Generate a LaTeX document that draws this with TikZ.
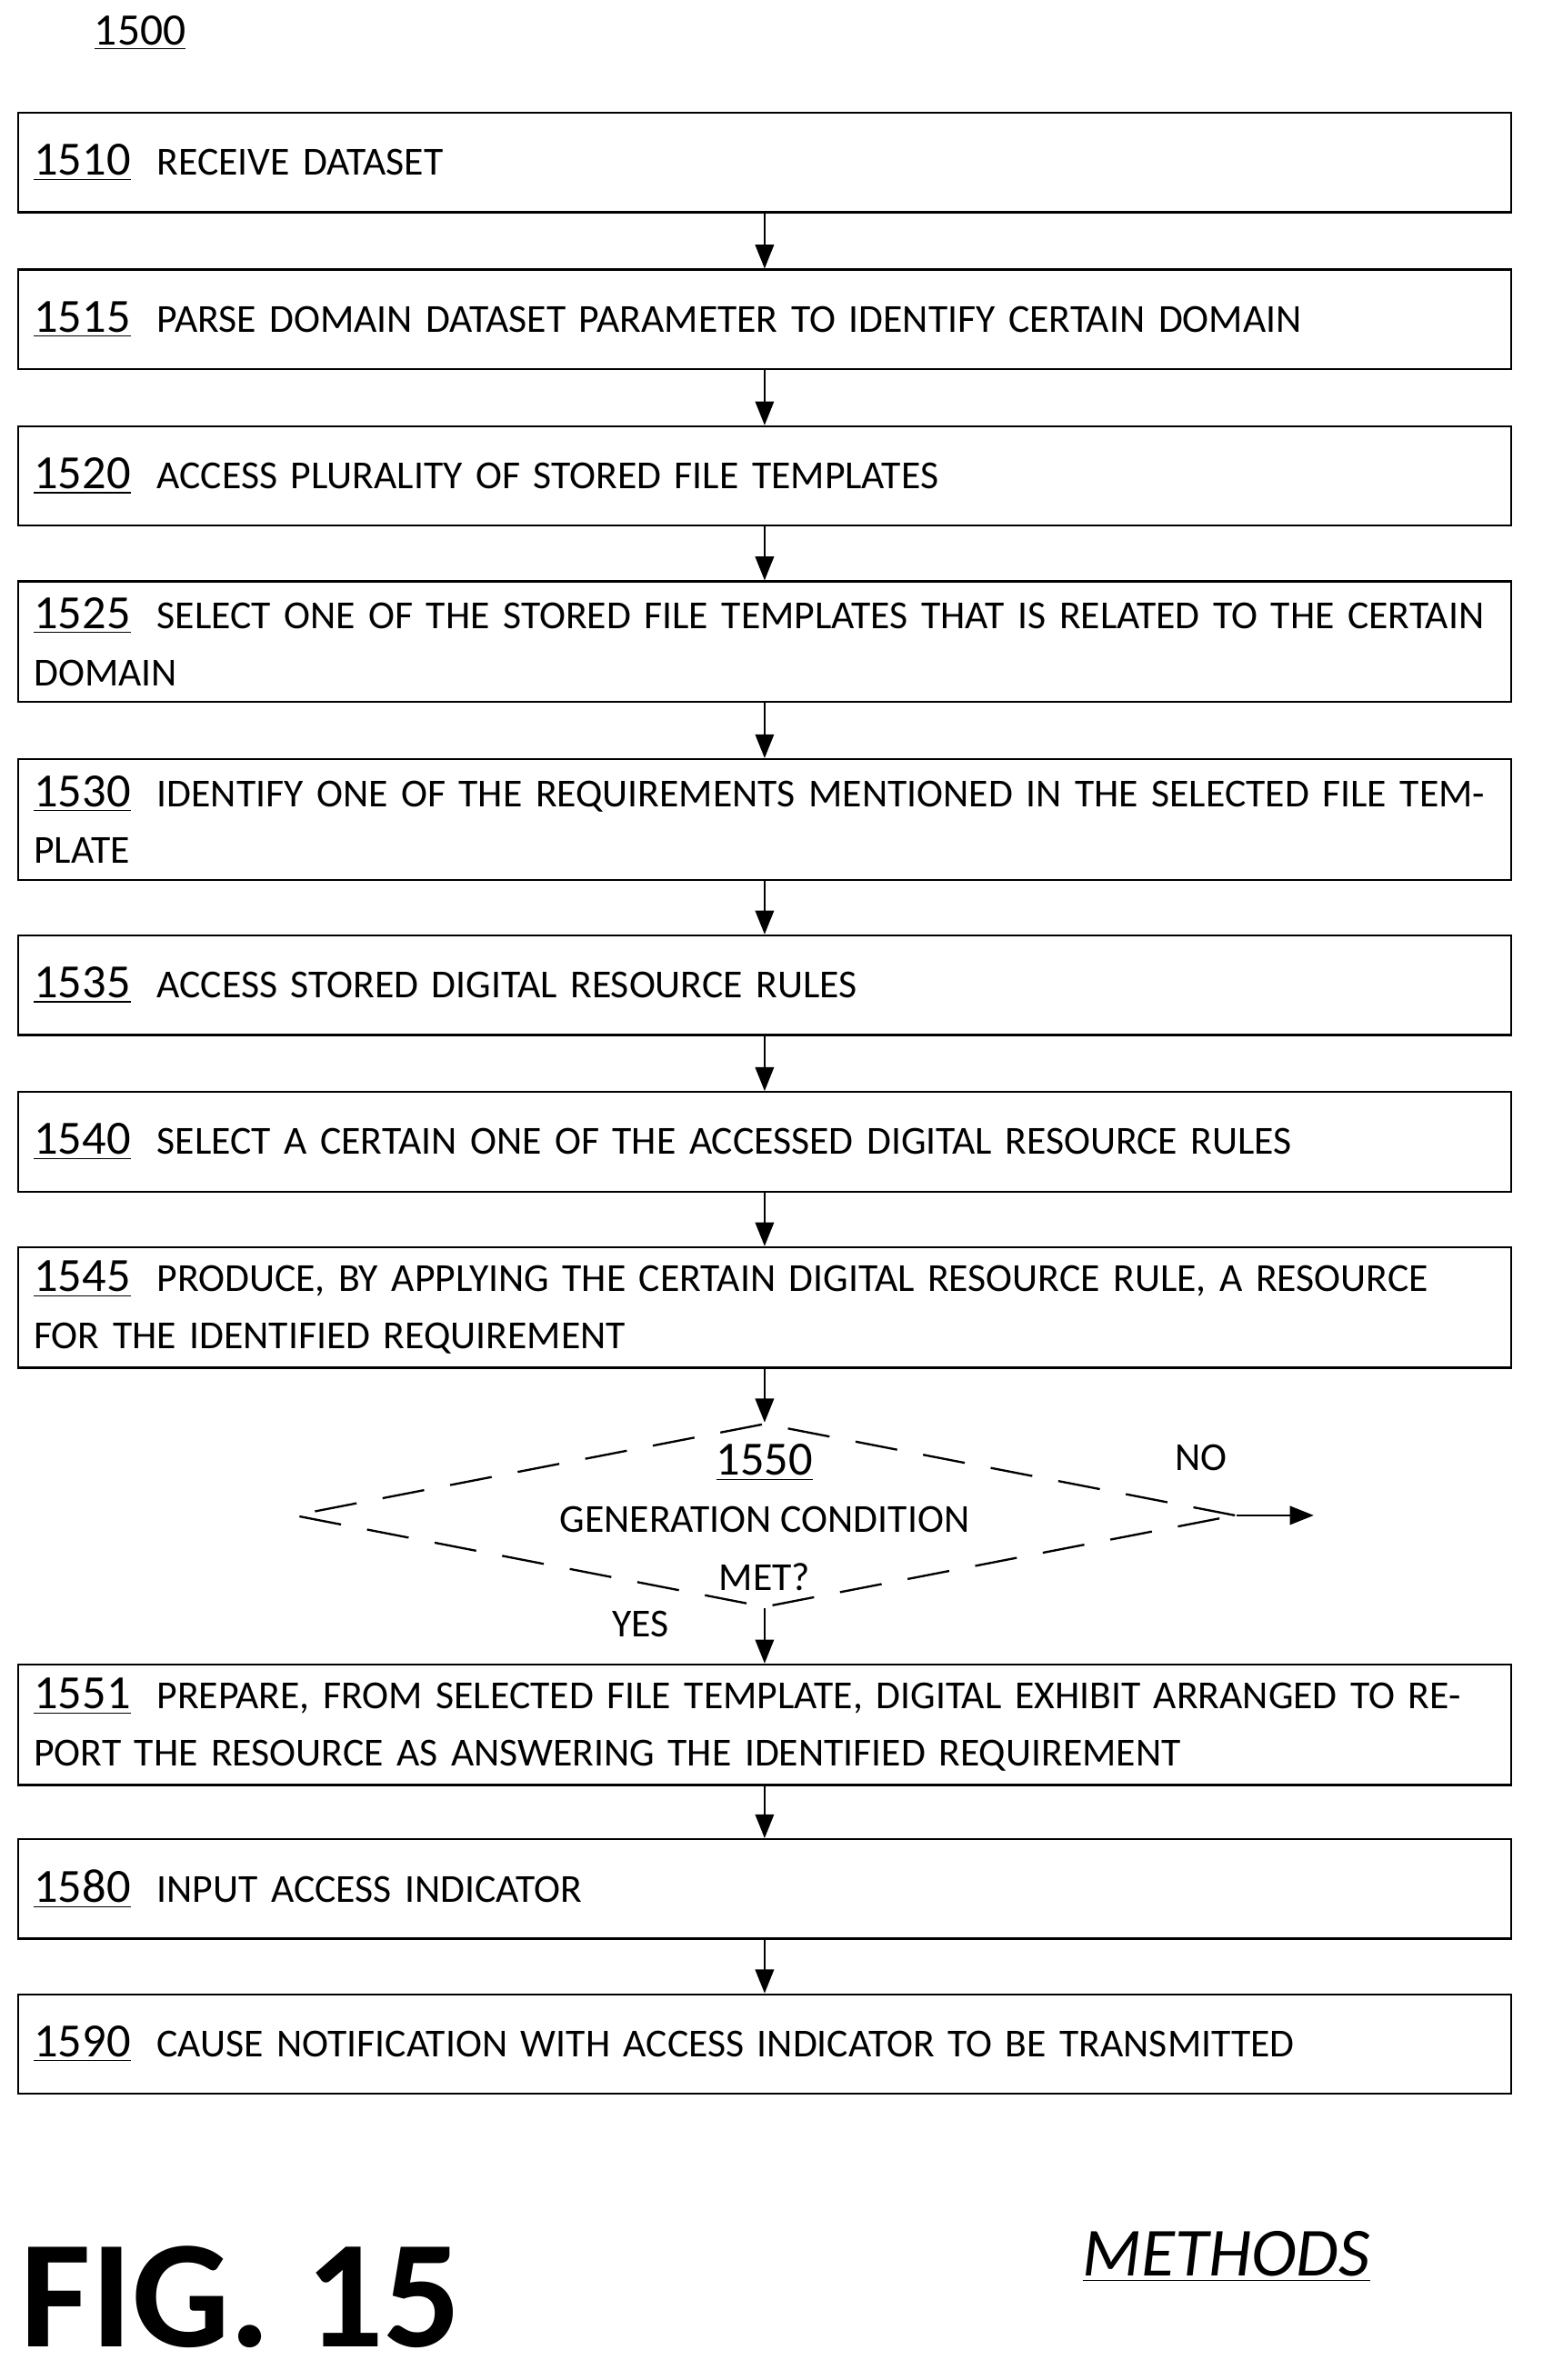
\documentclass[tikz,border=0pt]{standalone}
\usepackage{fontspec}
\setmainfont{Carlito}
\usetikzlibrary{arrows.meta,shapes.geometric}
\tikzset{
  stepbox/.style={draw,thick,rectangle,minimum width=19.82cm,text width=19.4cm,
    inner xsep=0.2cm,align=left,font=\fontsize{15}{21.5}\selectfont},
  flow/.style={thick,-{Triangle[length=9pt,width=7pt]}},
}
\newcommand{\stepnum}[1]{{\fontsize{18}{21.5}\selectfont\underline{#1}}}
\begin{document}
\begin{tikzpicture}
  \useasboundingbox (0,0) rectangle (20.48,-31.6);
  % Title
  \node (title) at (1.86,-0.44) {\fontsize{17}{20}\selectfont\underline{1500}};
  % Steps
  \node[stepbox,minimum height=1.32cm] (s1510) at (10.15,-2.16) {\stepnum{1510}\ \ RECEIVE DATASET};
  \node[stepbox,minimum height=1.32cm] (s1515) at (10.15,-4.24) {\stepnum{1515}\ \ PARSE DOMAIN DATASET PARAMETER TO IDENTIFY CERTAIN DOMAIN};
  \node[stepbox,minimum height=1.32cm] (s1520) at (10.15,-6.32) {\stepnum{1520}\ \ ACCESS PLURALITY OF STORED FILE TEMPLATES};
  \node[stepbox,minimum height=1.6cm] (s1525) at (10.15,-8.52) {\stepnum{1525}\ \ SELECT ONE OF THE STORED FILE TEMPLATES THAT IS RELATED TO THE CERTAIN DOMAIN};
  \node[stepbox,minimum height=1.6cm] (s1530) at (10.15,-10.88) {\stepnum{1530}\ \ IDENTIFY ONE OF THE REQUIREMENTS MENTIONED IN THE SELECTED FILE TEMPLATE};
  \node[stepbox,minimum height=1.32cm] (s1535) at (10.15,-13.08) {\stepnum{1535}\ \ ACCESS STORED DIGITAL RESOURCE RULES};
  \node[stepbox,minimum height=1.32cm] (s1540) at (10.15,-15.16) {\stepnum{1540}\ \ SELECT A CERTAIN ONE OF THE ACCESSED DIGITAL RESOURCE RULES};
  \node[stepbox,minimum height=1.6cm] (s1545) at (10.15,-17.36) {\stepnum{1545}\ \ PRODUCE, BY APPLYING THE CERTAIN DIGITAL RESOURCE RULE, A RESOURCE FOR THE IDENTIFIED REQUIREMENT};
  % Decision
  \node[draw,thick,dashed,dash pattern=on 16pt off 10pt,diamond,inner sep=0pt,
        minimum width=12.5cm,minimum height=2.44cm] (d1550) at (10.15,-20.12) {};
  \node[font=\fontsize{18}{20}\selectfont] (d1550num) at (10.15,-19.42) {\underline{1550}};
  \node[font=\fontsize{15}{20}\selectfont,align=center] (d1550txt) at (10.15,-20.56) {GENERATION CONDITION\\[2pt]MET?};
  \coordinate (noend) at (17.44,-20.12);
  \node[font=\fontsize{15}{20}\selectfont] (lno) at (15.94,-19.36) {NO};
  \node[font=\fontsize{15}{20}\selectfont] (lyes) at (8.5,-21.56) {YES};
  \node[stepbox,minimum height=1.6cm] (s1551) at (10.15,-22.9) {\stepnum{1551}\ \ PREPARE, FROM SELECTED FILE TEMPLATE, DIGITAL EXHIBIT ARRANGED TO REPORT THE RESOURCE AS ANSWERING THE IDENTIFIED REQUIREMENT};
  \node[stepbox,minimum height=1.32cm] (s1580) at (10.15,-25.08) {\stepnum{1580}\ \ INPUT ACCESS INDICATOR};
  \node[stepbox,minimum height=1.32cm] (s1590) at (10.15,-27.14) {\stepnum{1590}\ \ CAUSE NOTIFICATION WITH ACCESS INDICATOR TO BE TRANSMITTED};
  % Arrows
  \draw[flow] (s1510) -- (s1515);
  \draw[flow] (s1515) -- (s1520);
  \draw[flow] (s1520) -- (s1525);
  \draw[flow] (s1525) -- (s1530);
  \draw[flow] (s1530) -- (s1535);
  \draw[flow] (s1535) -- (s1540);
  \draw[flow] (s1540) -- (s1545);
  \draw[flow] (s1545) -- (d1550.north);
  \draw[flow] (d1550.east) -- (noend);
  \draw[flow] (d1550.south) -- (s1551);
  \draw[flow] (s1551) -- (s1580);
  \draw[flow] (s1580) -- (s1590);
  % Footer
  \node[font=\bfseries\fontsize{58}{60}\selectfont] (fig) at (3.2,-30.5) {FIG. 15};
  \node[font=\itshape\fontsize{26}{28}\selectfont] (methods) at (16.28,-29.96) {\underline{METHODS}};
\end{tikzpicture}
\end{document}
